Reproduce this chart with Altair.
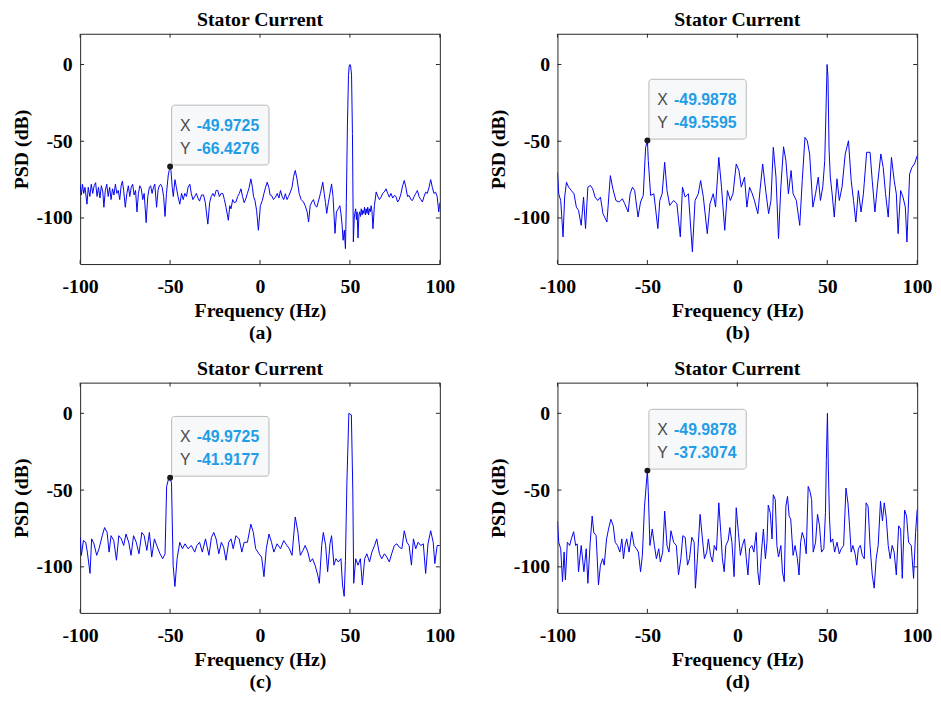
import altair as alt
import pandas as pd

# ---------------- data ----------------
x_ticks = [-100, -50, 0, 50, 100]
y_ticks = [-100, -50, 0]
panel_letters = ["a", "b", "c", "d"]
tip_x = [-49.9725, -49.9878, -49.9725, -49.9878]
tip_y = [-66.4276, -49.5595, -41.9177, -37.3074]

f_a = [-100, -99.3, -98.7, -98.0, -97.3, -96.2, -95.5, -94.6, -93.8, -93.0, -92.2, -91.4, -90.6, -89.8, -89.0,
       -88.2, -87.4, -86.8, -86.0, -85.2, -84.4, -83.6, -82.8, -82.0, -81.2, -80.4, -79.6, -78.8, -78.0, -77.2,
       -76.5, -75.8, -74.9, -74.0, -73.2, -72.4, -71.6, -70.8, -70.0, -69.2, -68.4, -67.6, -66.8, -66.0, -65.2,
       -64.4, -63.3, -62.4, -61.5, -60.8, -60.0, -59.2, -58.5, -57.5, -56.7, -56.0, -55.2, -54.4, -53.6, -52.8,
       -52.0, -51.0, -50.5, -49.9725, -49.5, -48.8, -48.2, -47.3, -46.5, -45.6, -44.6, -43.6, -42.7, -41.8, -40.9,
       -40.0, -39.0, -38.2, -37.3, -36.3, -35.4, -34.5, -33.6, -32.5, -31.4, -30.4, -29.0, -28.0, -27.1, -26.2,
       -25.3, -24.4, -23.5, -22.6, -21.6, -20.7, -19.8, -18.9, -17.6, -16.8, -16.1, -15.2, -14.3, -13.4, -12.4,
       -11.5, -10.6, -9.7, -8.8, -7.9, -7.0, -6.0, -5.1, -4.2, -3.6, -2.8, -1.9, -0.9, 0.2, 1.3,
       2.2, 3.1, 4.0, 4.9, 5.6, 6.4, 7.5, 8.6, 9.6, 10.5, 11.4, 12.3, 13.2, 14.1, 15.0,
       15.9, 16.9, 17.8, 18.7, 19.6, 20.5, 21.8, 22.9, 24.2, 25.1, 26.2, 27.0, 27.9, 28.8, 29.7,
       30.7, 31.6, 32.5, 33.6, 34.9, 35.7, 36.4, 37.1, 38.0, 38.9, 39.8, 40.6, 41.7, 42.5, 43.5,
       44.4, 45.0, 45.6, 46.2, 46.9, 47.5, 48.0, 48.6, 49.2, 49.6, 50.0, 50.4, 50.9, 51.4, 51.9, 52.4,
       52.7, 53.2, 53.6, 54.0, 54.5, 55.0, 55.4, 55.9, 56.3, 56.8, 57.2, 57.7, 58.1, 58.6, 59.0,
       59.5, 59.9, 60.4, 60.8, 61.3, 61.8, 62.3, 62.8, 63.6, 64.6, 65.5, 66.4, 67.3, 68.2, 69.1,
       70.1, 71.0, 71.9, 72.8, 73.8, 74.7, 75.6, 76.5, 77.4, 78.4, 79.3, 80.2, 81.1, 82.0, 82.9,
       83.9, 84.8, 85.7, 86.6, 87.5, 88.4, 89.4, 90.3, 91.2, 92.1, 93.0, 94.0, 94.9, 95.8, 96.7,
       97.6, 98.5, 99.4, 100.0]
p_a = [-78, -85, -78, -84, -80, -91, -80, -86, -78, -84, -79, -77, -86, -80, -87,
       -79, -83, -93, -82, -78, -86, -80, -88, -81, -85, -78, -84, -82, -88, -79,
       -76, -82, -93, -84, -79, -86, -80, -78, -85, -82, -96, -84, -79, -81, -88,
       -84, -103, -86, -80, -79, -84, -80, -78, -93, -82, -79, -78, -80, -86, -99,
       -84, -72, -69, -66.4276, -69, -80, -86, -75, -80, -86, -91, -84, -88, -84, -86,
       -80, -78, -84, -88, -86, -84, -87, -89, -85, -85, -90, -104, -90, -86, -84,
       -86, -82, -82, -86, -84, -84, -88, -93, -101.5, -92, -94, -88, -90, -89.6, -86,
       -84, -81, -86, -90, -87.5, -84, -80, -74.5, -80, -86, -88.6, -95, -108, -92, -88.6,
       -84, -80, -76.7, -80, -85, -85.3, -88, -86.4, -84, -87, -82.1, -86, -88, -84.2, -88,
       -86, -83, -80, -73, -69, -74, -84.2, -88, -89.6, -92, -96, -102.6, -92, -89.6, -88,
       -92, -92.9, -89, -84, -76.7, -84, -90, -97, -90, -84, -77.8, -86, -110, -96, -94,
       -92, -97, -104, -114.5, -108, -120, -90, -40, -7, -1, 0, -1, -7, -45, -115.6, -100,
       -97, -94, -101, -96, -113, -98, -96, -99, -94, -98, -95, -97, -93, -98, -94,
       -97, -93, -98, -94, -96, -92, -96, -107, -92, -83, -86, -88, -86.4, -84, -83,
       -81, -84, -86.4, -84, -87, -85.3, -86, -89.6, -88, -84, -79, -75.6, -80, -86, -85.3,
       -88, -88.6, -86, -84, -82.1, -86, -88, -89.6, -86, -83.2, -84, -80, -75, -80, -84,
       -83.2, -86, -96, -90]

f_b = [-100, -99.3, -98.2, -96.9, -96.0, -95.0, -93.8, -92.3, -90.8, -89.5, -88.3, -86.8, -85.5, -84.4, -83.1,
       -81.7, -80.4, -79.1, -77.6, -76.1, -74.7, -72.5, -70.6, -69.2, -67.5, -65.7, -63.9, -62.6, -60.7, -59.6,
       -58.3, -57.1, -55.2, -53.8, -52.3, -51.0, -49.9878, -49.5, -48.2, -46.4, -44.2, -43.1, -41.8, -40.4, -39.1,
       -37.6, -35.4, -33.6, -31.7, -30.5, -29.0, -27.2, -25.0, -23.5, -21.7, -20.4, -18.9, -16.7, -15.2, -13.4,
       -12.1, -10.3, -8.8, -7.0, -5.5, -3.9, -2.4, -0.6, 0.9, 2.2, 4.0, 5.3, 6.8, 8.3, 9.5,
       11.4, 12.7, 14.1, 16.0, 17.4, 18.7, 20.0, 21.5, 22.9, 24.2, 25.7, 27.0, 28.4, 29.9, 31.0,
       32.8, 34.7, 36.1, 37.6, 38.9, 40.2, 42.0, 43.5, 45.0, 46.2, 47.5, 48.6, 49.3, 49.9, 50.4,
       51.0, 51.7, 52.7, 53.9, 55.4, 56.7, 58.2, 60.0, 61.8, 63.3, 64.6, 65.9, 67.3, 68.8, 70.1,
       71.9, 73.8, 75.0, 76.5, 78.0, 79.8, 81.1, 82.4, 83.9, 85.7, 87.2, 88.4, 89.4, 90.8, 92.1,
       93.4, 94.3, 95.8, 97.1, 98.5, 100.0]
p_b = [-70.2, -84.2, -88.6, -112.3, -86.4, -76.7, -79.9, -82.1, -84.2, -92.9, -95, -104.8, -86.4, -106.9, -79.9,
       -78.8, -81, -86.4, -88.6, -86.4, -97.2, -102.6, -72.4, -81, -88.6, -89.6, -87.5, -90.7, -96.1, -84.2,
       -79.9, -82.1, -99.4, -89.6, -85.3, -54, -49.5595, -62.6, -85.3, -84.2, -106.9, -88.6, -84.2, -63.7, -82.1,
       -91.8, -88.6, -90.7, -112.3, -79.9, -86.4, -84.2, -122, -88.6, -84.2, -75.6, -86.4, -110.2, -90.7, -84.2,
       -92.9, -60.5, -79.9, -108, -82.1, -88.6, -84.2, -64.8, -69.1, -79.9, -73.4, -92.9, -79.9, -84.2, -88.6,
       -97.2, -81, -64.8, -84.2, -97.2, -88.6, -54, -73.4, -113.4, -79.9, -53.6, -62.6, -84.2, -69.1, -84.2,
       -88.6, -104.8, -75.6, -47.5, -49.7, -58.3, -92.9, -84.2, -73.4, -88.6, -79.9, -62.6, -30, 0, -8,
       -55, -73.4, -84.2, -99.4, -74.5, -88.6, -79.9, -58.3, -49.7, -75.6, -88.6, -102.6, -82.1, -96.1, -84.2,
       -57.2, -57.2, -75.6, -96.1, -77.8, -58.3, -67, -84.2, -99.4, -60.5, -75.6, -84.2, -110.2, -82.1, -86.4,
       -92.9, -115.6, -71.3, -67, -64.8, -59.4]

f_c = [-100, -99.3, -98.2, -96.9, -96.0, -94.5, -93.6, -92.3, -90.8, -89.5, -87.7, -86.4, -85.0, -83.9, -82.8,
       -81.3, -79.8, -78.5, -77.1, -75.8, -74.5, -73.0, -71.7, -70.3, -68.8, -67.3, -65.7, -64.4, -62.9, -61.5,
       -60.2, -58.7, -57.4, -55.6, -54.1, -52.8, -51.9, -51.0, -49.9725, -49.2, -48.3, -47.3, -46.1, -44.6, -43.1,
       -41.7, -40.0, -38.2, -36.3, -35.1, -33.6, -32.1, -30.3, -28.4, -27.0, -25.7, -24.4, -22.9, -21.5, -20.2,
       -18.9, -17.4, -16.1, -14.9, -13.4, -11.6, -10.1, -8.8, -7.0, -5.1, -3.7, -2.4, -0.6, 0.9, 2.2,
       3.5, 5.0, 6.4, 7.7, 9.5, 11.4, 13.2, 15.0, 16.3, 17.8, 19.6, 21.1, 22.4, 23.9, 25.1,
       26.6, 27.9, 29.2, 30.6, 32.1, 33.0, 34.3, 35.2, 36.5, 37.6, 38.9, 39.8, 41.1, 42.2, 43.5,
       45.0, 45.9, 46.8, 47.5, 48.3, 49.4, 50.8, 51.6, 52.1, 53.2, 54.5, 55.8, 56.9, 58.2, 59.4,
       60.9, 62.2, 63.7, 64.9, 66.4, 67.7, 69.2, 70.5, 71.9, 73.2, 74.7, 76.1, 77.4, 78.9, 80.2,
       81.7, 82.9, 84.2, 85.3, 86.6, 87.9, 89.4, 90.8, 92.1, 93.4, 94.9, 96.3, 97.2, 98.5, 100.0]
p_c = [-80.8, -92.5, -82.9, -84, -90.4, -104.3, -81.8, -85, -92.5, -88.2, -79.7, -74.4, -77.6, -90.4, -79.7,
       -82.9, -95.7, -79.7, -81.8, -86.1, -78.6, -84, -92.5, -79.7, -84, -91.5, -77.6, -79.7, -89.3, -77.6,
       -93.6, -81.8, -86.1, -91.5, -94.7, -91.5, -47.6, -43.4, -41.9177, -45.5, -98.9, -112.8, -94.7, -84, -88.2,
       -85, -88.2, -86.1, -90.4, -86.1, -84, -90.4, -81.8, -92.5, -80.8, -77.6, -81.8, -91.5, -84, -87.2,
       -95.7, -84, -81.8, -88.2, -79.7, -81.8, -90.4, -84, -84, -72.2, -77.6, -88.2, -91.5, -93.6, -106.4,
       -88.2, -78.6, -84, -90.4, -85, -88.2, -82.9, -86.1, -88.2, -92.5, -67.5, -77.6, -92.5, -89.3, -86.1,
       -90.4, -96.8, -94.7, -98.9, -105.3, -110.7, -86.1, -77.6, -86.1, -103.2, -85, -79.7, -98.9, -94.7, -96.8,
       -94.7, -111.8, -119.2, -96, -45.5, 0, -1, -50, -110.7, -94.7, -98.9, -94.7, -111.8, -94.7, -91.5,
       -96.8, -90.4, -86.1, -81.8, -91.5, -94.7, -91.5, -93.6, -96.8, -91.5, -86.1, -85, -87.2, -88.2, -76.5,
       -84, -86.1, -98.9, -81.8, -88.2, -84, -86.1, -85, -104.3, -85, -76.5, -84, -97.9, -86.1, -86.1]

f_d = [-100, -99.3, -98.2, -97.2, -96.3, -95.6, -94.5, -93.2, -92.3, -91.0, -89.9, -89.0, -88.3, -86.8, -85.3,
       -84.0, -83.1, -81.8, -80.7, -79.8, -78.5, -77.2, -76.1, -74.9, -74.0, -72.7, -71.6, -70.3, -69.0, -67.9,
       -66.6, -65.3, -64.2, -63.3, -62.4, -61.5, -60.2, -58.7, -57.4, -56.1, -55.0, -53.8, -52.8, -51.6, -49.9878,
       -49.5, -48.6, -47.3, -46.1, -45.0, -43.7, -42.8, -41.5, -40.4, -39.1, -38.0, -36.9, -35.4, -33.9, -32.7,
       -31.4, -30.3, -29.0, -27.7, -26.6, -25.3, -24.0, -23.3, -22.2, -20.7, -19.4, -18.3, -17.0, -16.1, -14.9,
       -13.8, -12.8, -11.6, -10.3, -9.2, -8.3, -7.3, -6.4, -5.1, -4.2, -3.0, -1.8, -0.6, 0.6, 1.7,
       2.8, 4.0, 5.0, 5.9, 6.8, 8.1, 9.2, 10.5, 11.4, 12.3, 13.4, 14.5, 15.6, 16.5, 17.2,
       18.3, 19.3, 20.0, 21.1, 22.0, 22.9, 24.2, 25.1, 26.1, 27.0, 27.9, 28.8, 29.7, 31.0, 32.1,
       33.4, 34.3, 35.2, 36.1, 37.2, 38.3, 39.4, 40.4, 41.3, 42.2, 43.5, 44.6, 45.7, 46.8, 48.1,
       49.0, 49.5, 50.1, 50.6, 51.2, 51.9, 53.0, 54.1, 55.4, 56.7, 57.8, 59.1, 60.4, 61.5, 62.4,
       63.3, 64.2, 65.5, 66.4, 67.3, 68.4, 69.5, 70.6, 71.6, 72.7, 73.8, 75.0, 76.1, 77.2, 78.3,
       79.6, 80.7, 81.7, 82.8, 83.9, 85.0, 86.1, 87.2, 88.4, 89.7, 90.8, 91.7, 93.0, 94.1, 95.2,
       96.7, 98.0, 99.1, 100.0]
p_d = [-70.1, -84, -88.2, -109.6, -90.4, -108.5, -84, -86.1, -81.8, -77.1, -86.1, -85, -103.2, -86.1, -103.2,
       -88.2, -110.7, -84, -66.9, -77.6, -79.7, -111.8, -98.9, -94.7, -98.9, -81.8, -75.4, -69, -73.3, -84,
       -86.1, -90.4, -81.8, -94.7, -86.1, -81.8, -90.4, -77.1, -86.1, -88.2, -90.4, -103.2, -92.5, -60.5, -37.3074,
       -50.9, -86.1, -75.4, -86.1, -94.7, -88.2, -96.8, -90.4, -63.7, -86.1, -90.4, -76.5, -84, -86.1, -105.3,
       -94.7, -79.7, -80.8, -98.9, -94.7, -80.8, -84, -113.9, -94.7, -65.8, -81.8, -94.7, -90.4, -81.8, -92.5,
       -96.8, -86.1, -89.3, -58.3, -77.6, -94.7, -103.2, -86.1, -82.9, -74.4, -84, -106.4, -61.5, -77.6, -92.5,
       -86.1, -81.8, -94.7, -105.3, -88.2, -86.1, -90.4, -77.6, -103.2, -111.8, -90.4, -75.4, -94.7, -84, -59.8,
       -64.7, -81.8, -53, -56.2, -86.1, -93.6, -86.1, -103.2, -109.6, -60.5, -54.1, -66.9, -69, -92.5, -86.1,
       -94.7, -105.3, -84, -77.6, -81.8, -91.5, -47.6, -50.9, -56.2, -90.4, -84, -65.8, -73.3, -90.4, -88.2,
       -64.7, -30, 0, -35, -66.9, -84, -81.8, -90.4, -84, -91.5, -88.2, -86.1, -48.7, -58.3, -73.3,
       -90.4, -86.1, -91.5, -98.9, -88.2, -86.1, -92.5, -94.7, -58.3, -60.5, -86.1, -105.3, -113.9, -94.7, -86.1,
       -57.3, -70.1, -58.3, -68, -86.1, -94.7, -86.1, -90.4, -105.3, -73.3, -75.4, -107.5, -63, -66.9, -84,
       -86.1, -107.5, -77.6, -62.6]

series_f = [f_a, f_b, f_c, f_d]
series_p = [p_a, p_b, p_c, p_d]

# ---------------- styling ----------------
W, H = 364, 233
SERIF = "Liberation Serif"
SANS = "Liberation Sans"
FRAME = "#262626"
FS = 20
xscale = alt.Scale(domain=[-100, 100], nice=False, zero=False)
yscale = alt.Scale(domain=[-130, 20], nice=False, zero=False)


def panel(i):
    df = pd.DataFrame({"f": series_f[i], "p": series_p[i]})
    tip = pd.DataFrame({"f": [tip_x[i]], "p": [tip_y[i]],
                        "xs": [f"{tip_x[i]:.4f}"], "ys": [f"{tip_y[i]:.4f}"]})
    xt = pd.DataFrame({"f": x_ticks})
    yt = pd.DataFrame({"p": y_ticks})

    xaxis = alt.Axis(
        values=x_ticks, labelExpr="toString(datum.value)",
        labelFont=SERIF, labelFontSize=FS, labelFontWeight="bold",
        labelColor="black", labelPadding=13, labelFlush=False, labelOverlap=False,
        ticks=False, domain=False, grid=False,
        title=["Frequency (Hz)", f"({panel_letters[i]})"], titleFont=SERIF,
        titleFontSize=FS, titleFontWeight="bold", titleColor="black",
        titlePadding=4, titleLineHeight=22)
    yaxis = alt.Axis(
        values=y_ticks, labelExpr="toString(datum.value)",
        labelFont=SERIF, labelFontSize=FS, labelFontWeight="bold",
        labelColor="black", labelPadding=8, labelOverlap=False,
        ticks=False, domain=False, grid=False,
        title="PSD (dB)", titleFont=SERIF, titleFontSize=FS, titleFontWeight="bold",
        titleColor="black", titlePadding=5)
    xenc = alt.X("f:Q", scale=xscale, axis=xaxis)
    yenc = alt.Y("p:Q", scale=yscale, axis=yaxis)

    line = alt.Chart(df).mark_line(color="#0000f0", strokeWidth=1, clip=True).encode(
        x=xenc, y=yenc)
    box = alt.Chart(tip).mark_rect(
        fill="#f7f8f9", stroke="#b8b8b8", strokeWidth=1, cornerRadius=3,
        xOffset=1.5, x2Offset=100, yOffset=-1.5, y2Offset=-62).encode(
        x=xenc, x2="f", y=yenc, y2="p")
    dot = alt.Chart(tip).mark_circle(size=36, color="#1a1a1a", opacity=1).encode(x=xenc, y=yenc)
    lab_x = alt.Chart(tip).mark_text(align="left", baseline="alphabetic", dx=10, dy=-36,
                                     font=SANS, fontSize=16, color="#4a4a4a").encode(
        x=xenc, y=yenc, text=alt.value("X"))
    lab_y = alt.Chart(tip).mark_text(align="left", baseline="alphabetic", dx=10, dy=-13,
                                     font=SANS, fontSize=16, color="#4a4a4a").encode(
        x=xenc, y=yenc, text=alt.value("Y"))
    val_x = alt.Chart(tip).mark_text(align="left", baseline="alphabetic", dx=27, dy=-36,
                                     font=SANS, fontSize=16, fontWeight="bold",
                                     color="#1f9de6").encode(x=xenc, y=yenc, text="xs:N")
    val_y = alt.Chart(tip).mark_text(align="left", baseline="alphabetic", dx=27, dy=-13,
                                     font=SANS, fontSize=16, fontWeight="bold",
                                     color="#1f9de6").encode(x=xenc, y=yenc, text="ys:N")

    t_top = alt.Chart(xt).mark_rule(color=FRAME, strokeWidth=1).encode(
        x=xenc, y=alt.value(0), y2=alt.value(4))
    t_bot = alt.Chart(xt).mark_rule(color=FRAME, strokeWidth=1).encode(
        x=xenc, y=alt.value(H), y2=alt.value(H - 4))
    t_left = alt.Chart(yt).mark_rule(color=FRAME, strokeWidth=1).encode(
        y=yenc, x=alt.value(0), x2=alt.value(4))
    t_right = alt.Chart(yt).mark_rule(color=FRAME, strokeWidth=1).encode(
        y=yenc, x=alt.value(W), x2=alt.value(W - 4))

    return alt.layer(line, box, dot, lab_x, lab_y, val_x, val_y,
                     t_top, t_bot, t_left, t_right).properties(
        width=W, height=H,
        title=alt.TitleParams("Stator Current", font=SERIF, fontSize=FS,
                              fontWeight="bold", color="black", offset=3),
    )


row1 = alt.hconcat(panel(0), panel(1), spacing=32)
row2 = alt.hconcat(panel(2), panel(3), spacing=32)
chart = alt.vconcat(row1, row2, spacing=16).properties(
    padding={"left": 2, "top": -2, "right": 0, "bottom": 0},
    background="white",
).configure_view(stroke=FRAME, strokeWidth=1)

chart.save("out.html", embed_options={"renderer": "svg", "actions": False})
